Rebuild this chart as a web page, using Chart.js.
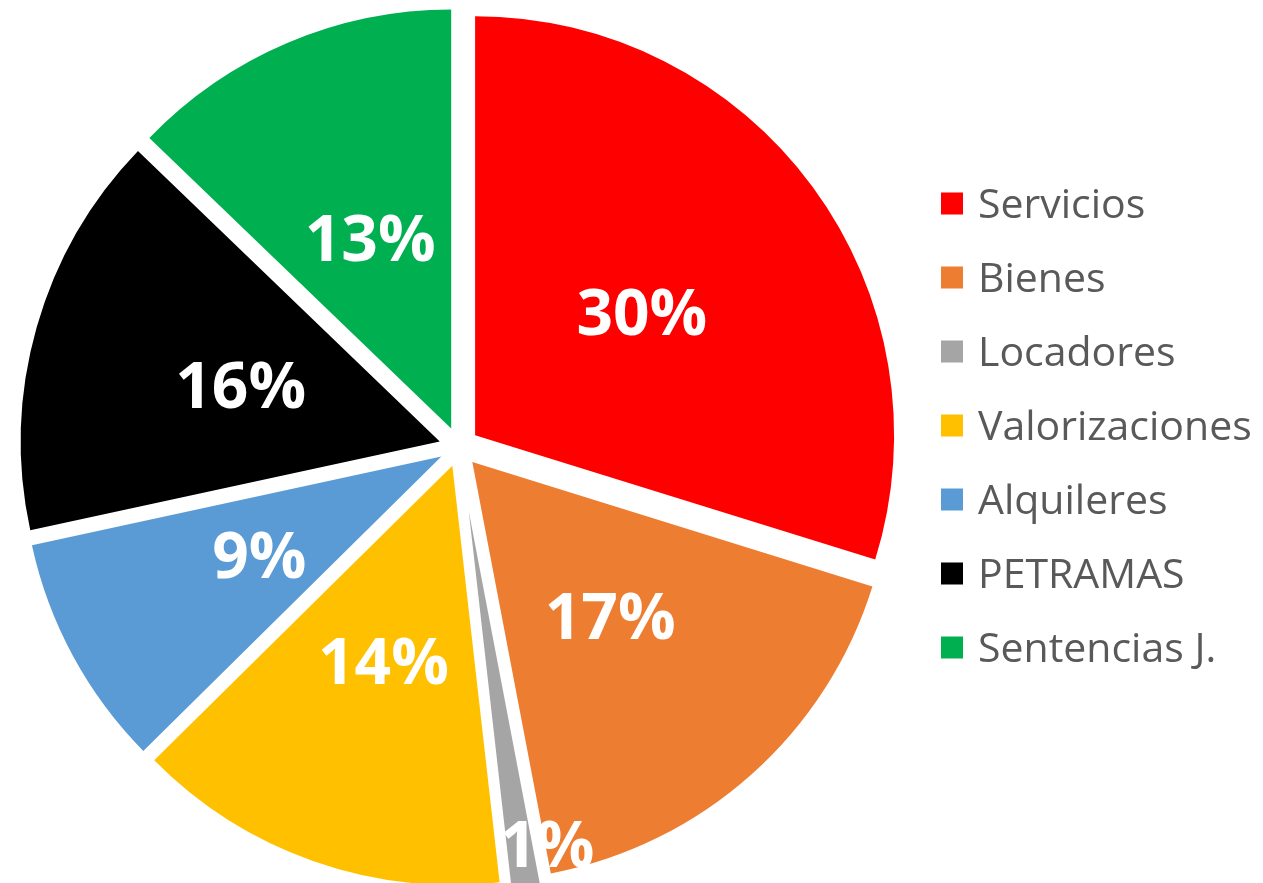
<!DOCTYPE html>
<html>
<head>
<meta charset="utf-8">
<script src="https://cdn.jsdelivr.net/npm/chart.js@4.4.0/dist/chart.umd.min.js"></script>
<style>
  html, body { margin: 0; padding: 0; background: #fff; }
  #wrap { width: 1263px; height: 883px; position: relative; }
</style>
</head>
<body>
<div id="wrap"><canvas id="pie"></canvas></div>
<script>
const categories = ["Servicios", "Bienes", "Locadores", "Valorizaciones", "Alquileres", "PETRAMAS", "Sentencias J."];
const shares = [29.8, 17.2, 1.2, 14.4, 9.0, 15.6, 12.8];
const sliceColors = ["#FF0000", "#ED7D31", "#A5A5A5", "#FFC000", "#5B9BD5", "#000000", "#00B050"];
const sliceOffsets = [20, 20, 65, 20, 20, 20, 20]; // explode distance in px
const pieRadius = 419;

// Chart.js' own arc offset shrinks thin slices, so push each arc out along
// its middle angle here instead (plain translation, same radius for all)
const explode = {
    id: 'explode',
    beforeDatasetsDraw(chart) {
        const area = chart.chartArea;
        const cx = (area.left + area.right) / 2;
        const cy = (area.top + area.bottom) / 2;
        chart.getDatasetMeta(0).data.forEach((arc, i) => {
            const mid = (arc.startAngle + arc.endAngle) / 2;
            arc.x = cx + Math.cos(mid) * sliceOffsets[i];
            arc.y = cy + Math.sin(mid) * sliceOffsets[i];
        });
    }
};

// white percentage labels inside the slices
const pctLabels = {
    id: 'pctLabels',
    afterDatasetsDraw(chart) {
        const ctx = chart.ctx;
        const area = chart.chartArea;
        const cx = (area.left + area.right) / 2;
        const cy = (area.top + area.bottom) / 2;
        const meta = chart.getDatasetMeta(0);
        const total = shares.reduce((a, b) => a + b, 0);
        ctx.save();
        ctx.font = 'bold 64px "Open Sans"';
        ctx.fillStyle = '#FFFFFF';
        ctx.textAlign = 'center';
        ctx.textBaseline = 'alphabetic';
        meta.data.forEach((arc, i) => {
            const pct = Math.round(shares[i] / total * 100);
            let a, d;
            if (pct < 3) {
                // tiny slice: label sits at the rim, like Excel's best fit
                a = arc.startAngle - 0.03;
                d = pieRadius - 12;
            } else {
                a = (arc.startAngle + arc.endAngle) / 2;
                d = sliceOffsets[i] + 207;
            }
            const x = cx + Math.cos(a) * d;
            const y = cy + Math.sin(a) * d;
            ctx.fillText(pct + '%', x, y + 23);
        });
        ctx.restore();
    }
};

// legend on the right, drawn by hand so it sits where the original has it
const sideLegend = {
    id: 'sideLegend',
    afterDraw(chart) {
        const ctx = chart.ctx;
        const labels = chart.data.labels;
        const colors = chart.data.datasets[0].backgroundColor;
        ctx.save();
        ctx.font = '41px "Open Sans"';
        ctx.textAlign = 'left';
        ctx.textBaseline = 'alphabetic';
        labels.forEach((label, i) => {
            const cy = 203.5 + i * 74;
            ctx.fillStyle = colors[i];
            ctx.fillRect(941, cy - 11, 22, 22);
            ctx.fillStyle = '#595959';
            ctx.fillText(label, 978, cy + 14.5);
        });
        ctx.restore();
    }
};

new Chart(document.getElementById('pie'), {
    type: 'pie',
    data: {
        labels: categories,
        datasets: [{
            data: shares,
            backgroundColor: sliceColors,
            borderWidth: 0,
            hoverOffset: 0
        }]
    },
    options: {
        responsive: true,
        maintainAspectRatio: false,
        animation: false,
        radius: pieRadius,
        layout: { padding: { left: 0, right: 345, top: 11, bottom: 0 } },
        plugins: {
            legend: { display: false },
            tooltip: { enabled: false }
        }
    },
    plugins: [explode, pctLabels, sideLegend]
});
</script>
</body>
</html>
